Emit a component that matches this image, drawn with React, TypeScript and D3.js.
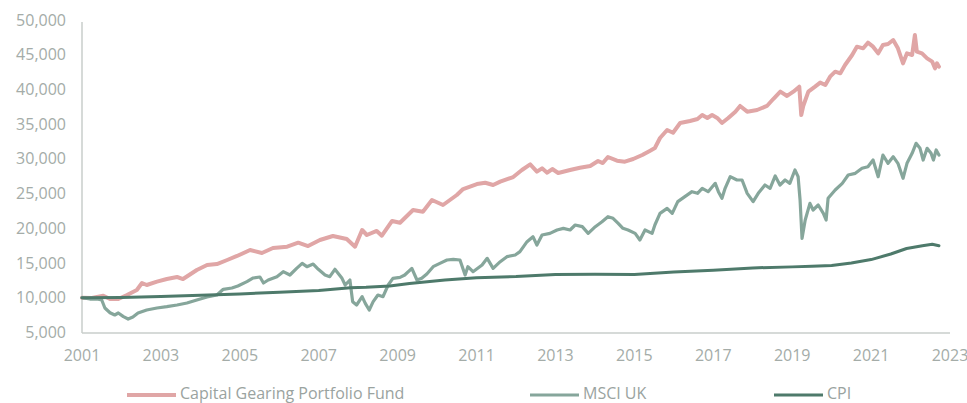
import React from "react";
import * as d3 from "d3";

const yTicks = [5000, 10000, 15000, 20000, 25000, 30000, 35000, 40000, 45000, 50000];
const xTicks = [2001, 2003, 2005, 2007, 2009, 2011, 2013, 2015, 2017, 2019, 2021, 2023];
const seriesNames = ["Capital Gearing Portfolio Fund", "MSCI UK", "CPI"];

const fund: [number, number][] = [
  [2001.0,10000],[2001.25,9970],[2001.54,10300],[2001.71,9820],[2001.92,9820],[2002.14,10400],[2002.39,11120],[2002.52,12130],[2002.64,11840],[2002.9,12320],[2003.15,12700],[2003.41,12990],[2003.56,12700],[2003.91,14000],[2004.17,14720],[2004.42,14860],[2004.68,15440],[2004.93,16020],[2005.26,16880],[2005.56,16450],[2005.84,17170],[2006.2,17360],[2006.48,17930],[2006.73,17450],[2007.03,18320],[2007.36,18900],[2007.71,18460],[2007.92,17350],[2008.1,19760],[2008.22,19040],[2008.47,19620],[2008.6,18940],[2008.86,21060],[2009.06,20810],[2009.39,22640],[2009.64,22400],[2009.87,24080],[2010.15,23360],[2010.5,24800],[2010.66,25660],[2011.01,26380],[2011.22,26570],[2011.42,26240],[2011.6,26720],[2011.93,27390],[2012.15,28400],[2012.36,29200],[2012.53,28160],[2012.66,28640],[2012.79,28010],[2012.92,28540],[2013.07,27970],[2013.37,28400],[2013.62,28730],[2013.88,28980],[2014.08,29700],[2014.2,29400],[2014.33,30270],[2014.56,29740],[2014.76,29600],[2014.97,29980],[2015.2,30560],[2015.4,31180],[2015.52,31570],[2015.65,33010],[2015.83,34160],[2015.98,33770],[2016.16,35170],[2016.41,35460],[2016.6,35750],[2016.72,36320],[2016.85,35890],[2016.97,36320],[2017.1,35890],[2017.22,35170],[2017.38,35890],[2017.56,36800],[2017.68,37620],[2017.86,36800],[2018.11,37040],[2018.36,37620],[2018.52,38620],[2018.7,39680],[2018.87,39060],[2019.03,39680],[2019.18,40400],[2019.23,36320],[2019.28,37620],[2019.41,39680],[2019.58,40400],[2019.71,40980],[2019.84,40640],[2019.96,41840],[2020.09,42560],[2020.22,42320],[2020.34,43520],[2020.52,44960],[2020.64,46160],[2020.8,45920],[2020.92,46730],[2021.05,46160],[2021.18,45200],[2021.3,46400],[2021.43,46540],[2021.56,47120],[2021.68,45920],[2021.81,43760],[2021.91,45200],[2022.04,44960],[2022.11,47840],[2022.16,45440],[2022.29,45200],[2022.42,44480],[2022.55,44000],[2022.62,43040],[2022.67,43760],[2022.72,43280]
];

const msci: [number, number][] = [
  [2001.0,10000],[2001.2,9820],[2001.38,9820],[2001.5,9680],[2001.58,8530],[2001.71,7850],[2001.83,7520],[2001.92,7810],[2002.05,7280],[2002.17,6940],[2002.29,7230],[2002.42,7810],[2002.64,8240],[2002.9,8530],[2003.15,8720],[2003.41,8960],[2003.66,9250],[2003.91,9680],[2004.17,10110],[2004.42,10400],[2004.58,11220],[2004.8,11410],[2004.95,11700],[2005.18,12320],[2005.34,12850],[2005.51,12990],[2005.6,12130],[2005.72,12560],[2005.94,13040],[2006.1,13760],[2006.27,13280],[2006.44,14240],[2006.58,14960],[2006.7,14480],[2006.86,14860],[2006.99,14100],[2007.16,13280],[2007.28,13040],[2007.41,14100],[2007.59,12800],[2007.67,11840],[2007.79,12560],[2007.86,9440],[2007.96,8960],[2008.1,10160],[2008.18,9200],[2008.28,8240],[2008.38,9440],[2008.5,10400],[2008.63,10160],[2008.76,11840],[2008.88,12800],[2009.06,12940],[2009.18,13280],[2009.36,14240],[2009.49,12560],[2009.61,12800],[2009.74,13420],[2009.9,14480],[2010.07,14960],[2010.25,15440],[2010.41,15540],[2010.58,15440],[2010.71,13280],[2010.78,14480],[2010.91,13760],[2011.14,14720],[2011.27,15680],[2011.42,14240],[2011.6,15200],[2011.77,15920],[2011.98,16160],[2012.1,16640],[2012.28,18080],[2012.43,18800],[2012.53,17600],[2012.66,19040],[2012.86,19280],[2013.04,19760],[2013.2,20000],[2013.37,19760],[2013.5,20480],[2013.68,20240],[2013.83,19280],[2014.01,20240],[2014.18,20960],[2014.33,21680],[2014.46,21440],[2014.59,20720],[2014.71,20000],[2014.84,19760],[2015.02,19280],[2015.14,18320],[2015.27,19760],[2015.45,19280],[2015.52,20480],[2015.65,22160],[2015.83,22880],[2015.96,22160],[2016.1,23840],[2016.28,24560],[2016.46,25280],[2016.6,25040],[2016.72,25760],[2016.87,25280],[2017.05,26480],[2017.13,25280],[2017.22,24320],[2017.3,25760],[2017.43,27440],[2017.6,26960],[2017.73,26960],[2017.86,25040],[2018.01,23840],[2018.14,25040],[2018.31,26240],[2018.44,25760],[2018.57,27540],[2018.69,26240],[2018.82,26960],[2018.94,26480],[2019.07,28400],[2019.15,27440],[2019.2,24080],[2019.25,18560],[2019.33,21200],[2019.45,23600],[2019.53,22640],[2019.66,23360],[2019.79,22160],[2019.86,21200],[2019.91,24320],[2020.09,25520],[2020.27,26480],[2020.42,27680],[2020.6,27920],[2020.77,28640],[2020.92,28880],[2021.05,29840],[2021.18,27440],[2021.3,30560],[2021.43,29360],[2021.56,30320],[2021.68,29360],[2021.81,27200],[2021.91,29360],[2022.04,30800],[2022.14,32240],[2022.24,31520],[2022.32,29840],[2022.42,31520],[2022.52,30800],[2022.58,29840],[2022.65,31280],[2022.72,30560]
];

const cpi: [number, number][] = [
  [2001.0,10000],[2002.0,10050],[2003.0,10200],[2004.0,10350],[2005.0,10550],[2006.0,10800],[2007.0,11050],[2007.8,11450],[2008.2,11500],[2008.8,11700],[2009.3,12050],[2010.2,12550],[2011.0,12900],[2012.0,13050],[2013.0,13350],[2014.0,13400],[2015.0,13350],[2016.0,13700],[2017.0,13950],[2018.0,14300],[2019.0,14450],[2019.5,14550],[2020.0,14650],[2020.5,15000],[2021.0,15500],[2021.5,16300],[2021.9,17100],[2022.3,17500],[2022.55,17700],[2022.72,17500]
];

const colors = ["#e0a6a6", "#86a69b", "#4e7a6b"];
const widths = [4, 3.2, 3];

export default function App() {
  const W = 967, H = 403;
  const x = d3.scaleLinear().domain([2001, 2023]).range([82, 950]);
  const y = d3.scaleLinear().domain([5000, 50000]).range([332.5, 20]);
  const line = d3.line<[number, number]>().x(d => x(d[0])).y(d => y(d[1]));
  const series = [fund, msci, cpi];
  const legendX = [127, 530, 774];
  const font = "'Open Sans', sans-serif";
  const tickColor = "#a4aca8";
  return (
    <svg width={W} height={H} style={{ position: "absolute", left: 0, top: 0, background: "#fff" }}>
      <line x1={82} x2={82} y1={22} y2={333} stroke="#c9cecb" strokeWidth={1.5} />
      <line x1={82} x2={950} y1={333} y2={333} stroke="#c9cecb" strokeWidth={1.5} />
      {yTicks.map(t => (
        <text key={t} x={66} y={y(t)} dy="0.35em" textAnchor="end" fontFamily={font} fontSize={16} fill={tickColor}>
          {d3.format(",")(t)}
        </text>
      ))}
      {xTicks.map(t => (
        <text key={t} x={x(t)} y={361} textAnchor="middle" fontFamily={font} fontSize={16} fill={tickColor}>
          {t}
        </text>
      ))}
      {series.map((s, i) => (
        <path key={i} d={line(s) || ""} fill="none" stroke={colors[i]} strokeWidth={widths[i]} strokeLinejoin="round" strokeLinecap="round" />
      ))}
      {seriesNames.map((n, i) => (
        <g key={n}>
          <line x1={legendX[i]} x2={legendX[i] + 49} y1={395} y2={395} stroke={colors[i]} strokeWidth={i === 0 ? 4 : 3} />
          <text x={legendX[i] + 53} y={399} fontFamily={font} fontSize={16} fill="#9aa3a0">{n}</text>
        </g>
      ))}
    </svg>
  );
}
